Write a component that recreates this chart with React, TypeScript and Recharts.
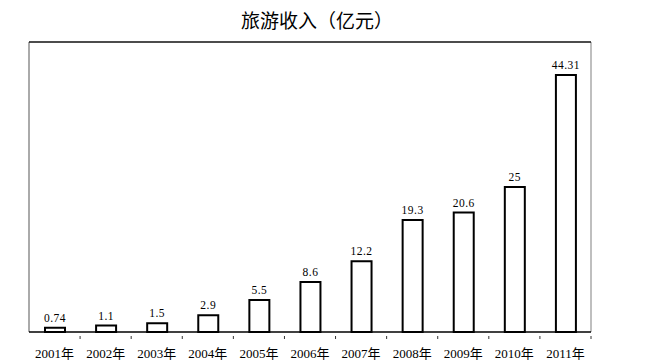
import { Bar, BarChart, LabelList, XAxis, YAxis, usePlotArea } from 'recharts';

const years = ['2001年', '2002年', '2003年', '2004年', '2005年', '2006年', '2007年', '2008年', '2009年', '2010年', '2011年'];
const income = [0.74, 1.1, 1.5, 2.9, 5.5, 8.6, 12.2, 19.3, 20.6, 25, 44.31];

const data = years.map((year, i) => ({ year, income: income[i] }));

const LABEL_FONT = '"Liberation Serif", "Noto Sans CJK SC", serif';

interface TickProps {
  x?: number;
  y?: number;
  payload?: { value: string; offset?: number };
}

const YearTick = ({ x = 0, y = 0, payload }: TickProps) => {
  const half = payload?.offset ?? 0;
  return (
    <g>
      <line x1={x + half} x2={x + half} y1={y - 4} y2={y - 1} stroke="#333" strokeWidth={1} />
      <text x={x} y={y + 18} textAnchor="middle" fontSize={13} fontFamily={LABEL_FONT} fill="#000">
        {payload?.value}
      </text>
    </g>
  );
};

// plot frame: dark top edge, grey sides
const Frame = () => {
  const area = usePlotArea();
  if (!area) return null;
  const { x, y, width, height } = area;
  return (
    <g>
      <line x1={x} x2={x} y1={y} y2={y + height} stroke="#aaa" strokeWidth={2} />
      <line x1={x + width} x2={x + width} y1={y} y2={y + height} stroke="#aaa" strokeWidth={1.5} />
      <line x1={x} x2={x + width} y1={y} y2={y} stroke="#111" strokeWidth={1.5} />
    </g>
  );
};

export default function App() {
  return (
    <div style={{ position: 'absolute', left: 0, top: 0, width: 647, height: 364, background: '#fff' }}>
      <div
        style={{
          position: 'absolute',
          left: 0,
          top: 8,
          width: 634,
          textAlign: 'center',
          fontFamily: '"Noto Sans CJK SC", sans-serif',
          fontSize: 19,
          lineHeight: '24px',
          color: '#000',
        }}
      >
        旅游收入（亿元）
      </div>
      <BarChart
        width={647}
        height={364}
        data={data}
        margin={{ top: 42, right: 56, left: 29, bottom: 0 }}
        barSize={20}
      >
        <XAxis
          dataKey="year"
          axisLine={{ stroke: '#000', strokeWidth: 1.5 }}
          tickLine={false}
          tick={<YearTick />}
          interval={0}
          height={32}
        />
        <YAxis domain={[0, 50]} hide />
        <Frame />
        <Bar dataKey="income" fill="#fff" stroke="#000" strokeWidth={2} isAnimationActive={false}>
          <LabelList
            dataKey="income"
            position="top"
            offset={6}
            fontSize={11.5}
            fontFamily={LABEL_FONT}
            fill="#000"
            letterSpacing={0.5}
          />
        </Bar>
      </BarChart>
    </div>
  );
}
